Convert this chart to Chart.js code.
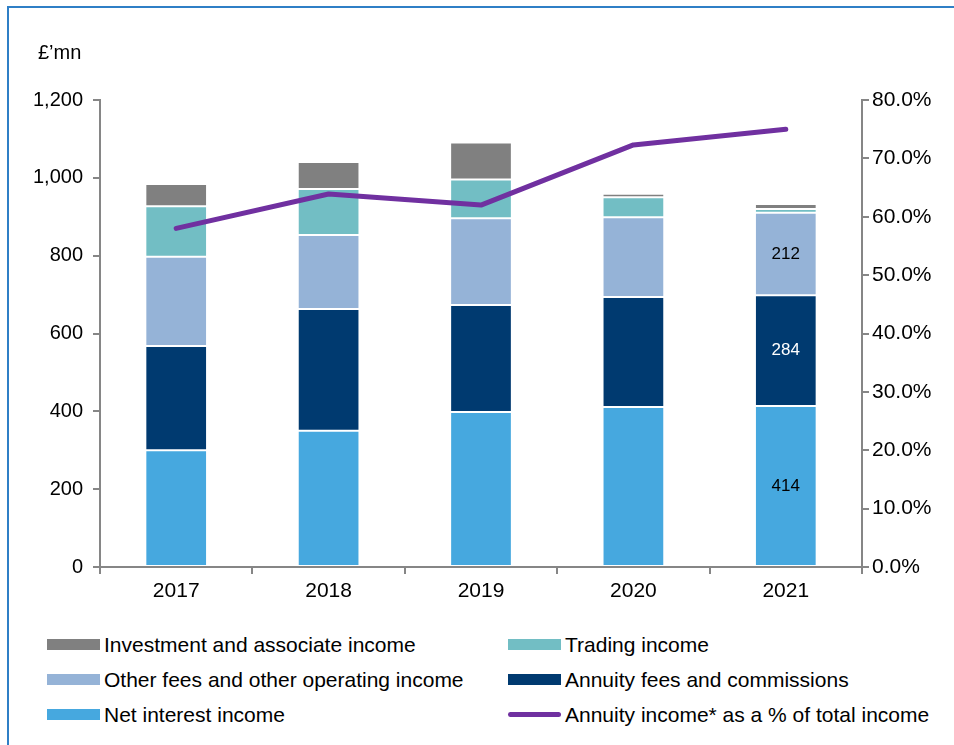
<!DOCTYPE html>
<html>
<head>
<meta charset="utf-8">
<script src="https://cdn.jsdelivr.net/npm/chart.js@4/dist/chart.umd.min.js"></script>
<style>
  body { margin: 0; background: #fff; font-family: 'Liberation Sans', Arial, sans-serif; }
  #wrap { position: relative; width: 954px; height: 745px; overflow: hidden; }
  #frame { position: absolute; left: 7px; top: 6px; width: 960px; height: 760px;
           border-top: 2px solid #2f7fc6; border-left: 2px solid #2f7fc6; }
  #chartBox { position: absolute; left: 0; top: 0; width: 954px; height: 620px; }
  #unit { position: absolute; left: 38px; top: 41px; font-size: 20px; color: #000; }
  #legend { position: absolute; left: 47px; top: 634px; width: 900px;
            display: grid; grid-template-columns: 461px 440px; row-gap: 14px; }
  .item { display: flex; align-items: center; height: 21px; font-size: 21px; color: #000; white-space: nowrap; }
  .sw { width: 53px; height: 11px; margin-right: 4px; }
  .sw.line { height: 5px; border-radius: 3px; }
</style>
</head>
<body>
<div id="wrap">
  <div id="frame"></div>
  <div id="chartBox"><canvas id="incomeChart" width="954" height="620"></canvas></div>
  <div id="unit">£’mn</div>
  <div id="legend"></div>
</div>
<script>
var years = ['2017', '2018', '2019', '2020', '2021'];

var netInterest = [300, 350, 398, 411, 414];
var annuityFees = [268, 313, 275, 283, 284];
var otherFees = [229, 190, 223, 205, 212];
var tradingIncome = [130, 118, 100, 51, 10];
var investmentIncome = [57, 70, 95, 9, 13];
var annuityPct = [58.0, 63.9, 62.0, 72.3, 75.0];

// only the 2021 column carries value labels in the original
var labelledYear = 4;

var axisGrey = '#868686';
var font = { family: "'Liberation Sans', Arial, sans-serif", size: 21 };
var leftFont = { family: "'Liberation Sans', Arial, sans-serif", size: 20 };

var barSets = [
    { label: 'Net interest income', data: netInterest, backgroundColor: '#46a8df', valueColor: '#000' },
    { label: 'Annuity fees and commissions', data: annuityFees, backgroundColor: '#003a70', valueColor: '#fff' },
    { label: 'Other fees and other operating income', data: otherFees, backgroundColor: '#95b3d7', valueColor: '#000' },
    { label: 'Trading income', data: tradingIncome, backgroundColor: '#72bec4' },
    { label: 'Investment and associate income', data: investmentIncome, backgroundColor: '#808080' }
];

var datasets = [{
    type: 'line',
    label: 'Annuity income* as a % of total income',
    data: annuityPct,
    yAxisID: 'y1',
    borderColor: '#7030a0',
    backgroundColor: '#7030a0',
    borderWidth: 5,
    borderCapStyle: 'round',
    borderJoinStyle: 'round',
    pointRadius: 0,
    tension: 0,
    order: 0
}];
barSets.forEach(function (b) {
    datasets.push({
        type: 'bar',
        label: b.label,
        data: b.data,
        backgroundColor: b.backgroundColor,
        borderColor: 'rgba(255,255,255,0.35)',
        borderWidth: 1,
        borderSkipped: false,
        yAxisID: 'y',
        stack: 'income',
        barPercentage: 0.405,
        categoryPercentage: 1,
        valueColor: b.valueColor,
        order: 1
    });
});

var valueLabels = {
    id: 'valueLabels',
    afterDatasetsDraw: function (chart) {
        var ctx = chart.ctx;
        ctx.save();
        ctx.font = '17px ' + font.family;
        ctx.textAlign = 'center';
        ctx.textBaseline = 'middle';
        chart.data.datasets.forEach(function (ds, i) {
            if (ds.type !== 'bar' || !ds.valueColor) return;
            var bar = chart.getDatasetMeta(i).data[labelledYear];
            var mid = (bar.y + bar.base) / 2;
            ctx.fillStyle = ds.valueColor;
            ctx.fillText(String(ds.data[labelledYear]), bar.x, mid);
        });
        ctx.restore();
    }
};

var ctxIncome = document.getElementById('incomeChart').getContext('2d');
var incomeChart = new Chart(ctxIncome, {
    data: { labels: years, datasets: datasets },
    plugins: [valueLabels],
    options: {
        responsive: false,
        animation: false,
        layout: { padding: { top: 100, left: 0, right: 0, bottom: 0 } },
        plugins: { legend: { display: false }, tooltip: { enabled: false } },
        scales: {
            x: {
                stacked: true,
                grid: { offset: true, drawOnChartArea: false, drawTicks: true, tickLength: 7, color: axisGrey, lineWidth: 2 },
                border: { color: axisGrey, width: 2 },
                ticks: { color: '#000', font: font, padding: 5 },
                afterFit: function (s) { s.height = 53; }
            },
            y: {
                stacked: true,
                position: 'left',
                min: 0,
                max: 1200,
                ticks: {
                    stepSize: 200,
                    color: '#000',
                    font: leftFont,
                    padding: 10,
                    callback: function (v) { return v.toLocaleString('en-GB'); }
                },
                grid: { drawOnChartArea: false, drawTicks: true, tickLength: 7, color: axisGrey, lineWidth: 2 },
                border: { color: axisGrey, width: 2 },
                afterFit: function (s) { s.width = 100; }
            },
            y1: {
                position: 'right',
                min: 0,
                max: 80,
                ticks: {
                    stepSize: 10,
                    color: '#000',
                    font: font,
                    padding: 3,
                    callback: function (v) { return v.toFixed(1) + '%'; }
                },
                grid: { drawOnChartArea: false, drawTicks: true, tickLength: 7, color: axisGrey, lineWidth: 2 },
                border: { color: axisGrey, width: 2 },
                afterFit: function (s) { s.width = 92; }
            }
        }
    }
});

// legend laid out as in the original: two columns, three rows
var legendOrder = [
    'Investment and associate income', 'Trading income',
    'Other fees and other operating income', 'Annuity fees and commissions',
    'Net interest income', 'Annuity income* as a % of total income'
];
var legendEl = document.getElementById('legend');
legendOrder.forEach(function (name) {
    var ds = datasets.filter(function (d) { return d.label === name; })[0];
    var item = document.createElement('div');
    item.className = 'item';
    var sw = document.createElement('span');
    sw.className = 'sw' + (ds.type === 'line' ? ' line' : '');
    sw.style.background = ds.type === 'line' ? ds.borderColor : ds.backgroundColor;
    item.appendChild(sw);
    item.appendChild(document.createTextNode(name));
    legendEl.appendChild(item);
});
</script>
</body>
</html>
